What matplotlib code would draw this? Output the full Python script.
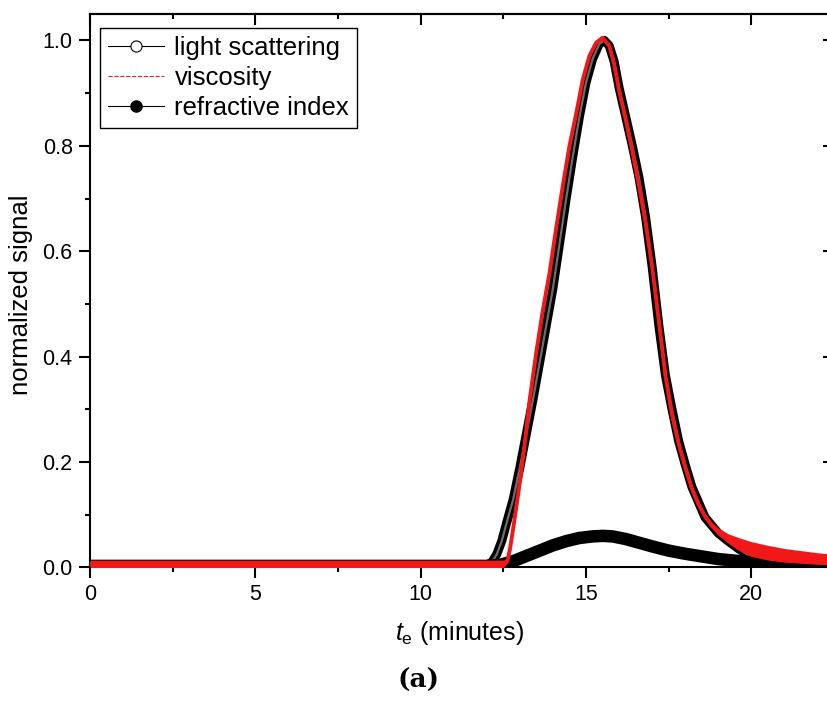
import matplotlib
matplotlib.use('Agg')
import matplotlib.pyplot as plt
from matplotlib.lines import Line2D
from matplotlib.ticker import MultipleLocator
import numpy as np

plt.rcParams['font.family'] = ['Liberation Sans', 'DejaVu Sans']
plt.rcParams['mathtext.fontset'] = 'custom'
plt.rcParams['mathtext.rm'] = 'Liberation Sans'
plt.rcParams['mathtext.it'] = 'Liberation Sans:italic'

# light scattering (open circles) - elution time in minutes, normalized signal
ls_t = [0, 2, 4, 6, 8, 10, 11, 12.0, 12.15, 12.3, 12.45, 12.6, 12.8, 13.0, 13.2,
        13.4, 13.6, 13.8, 14.0, 14.2, 14.4, 14.6, 14.8, 15.0, 15.2, 15.4, 15.55,
        15.7, 15.85, 16.0, 16.2, 16.4, 16.6, 16.8, 17.0, 17.2, 17.4, 17.6, 17.8,
        18.0, 18.2, 18.4, 18.6, 18.8, 19.0, 19.3, 19.6, 19.9, 20.2, 20.6, 21.0,
        21.5, 22.0, 22.5]
ls_y = [0.004, 0.004, 0.004, 0.004, 0.004, 0.004, 0.004, 0.005, 0.01, 0.025,
        0.05, 0.085, 0.13, 0.19, 0.255, 0.32, 0.39, 0.46, 0.53, 0.615, 0.70,
        0.78, 0.855, 0.92, 0.965, 0.993, 1.0, 0.99, 0.96, 0.91, 0.855, 0.80,
        0.74, 0.665, 0.57, 0.46, 0.365, 0.30, 0.24, 0.195, 0.153, 0.124, 0.095,
        0.08, 0.065, 0.05, 0.036, 0.024, 0.016, 0.01, 0.007, 0.005, 0.004, 0.004]

# viscosity (red, noisy)
visc_t = [0, 1, 2, 3, 4, 5, 6, 7, 8, 9, 10, 11, 12, 12.5, 12.62, 12.7, 12.8,
          12.95, 13.1, 13.3, 13.5, 13.7, 13.9, 14.1, 14.3, 14.5, 14.7, 14.9,
          15.1, 15.3, 15.5, 15.7, 15.85, 16.0, 16.2, 16.4, 16.6, 16.8, 17.0,
          17.2, 17.4, 17.6, 17.8, 18.0, 18.2, 18.4, 18.6, 18.8, 19.0, 19.3,
          19.6, 20.0, 20.5, 21.0, 21.5, 22.0, 22.5]
visc_y = [0.007, 0.007, 0.007, 0.007, 0.007, 0.007, 0.007, 0.007, 0.007, 0.007,
          0.007, 0.007, 0.007, 0.007, 0.012, 0.035, 0.075, 0.14, 0.21, 0.32,
          0.41, 0.49, 0.56, 0.645, 0.725, 0.80, 0.86, 0.925, 0.97, 0.995, 1.005,
          0.99, 0.955, 0.905, 0.85, 0.79, 0.725, 0.655, 0.57, 0.47, 0.365, 0.29,
          0.235, 0.19, 0.15, 0.12, 0.097, 0.08, 0.068, 0.055, 0.045, 0.035,
          0.028, 0.023, 0.02, 0.017, 0.015]
# half-width of the noise band of the viscosity trace
visc_noise = [0.007, 0.007, 0.007, 0.007, 0.007, 0.007, 0.007, 0.007, 0.007,
              0.007, 0.007, 0.007, 0.007, 0.007, 0.004, 0.003, 0.003, 0.003,
              0.003, 0.003, 0.003, 0.003, 0.003, 0.003, 0.003, 0.003, 0.003,
              0.003, 0.003, 0.003, 0.003, 0.003, 0.003, 0.003, 0.003, 0.003,
              0.003, 0.003, 0.003, 0.003, 0.003, 0.003, 0.003, 0.004, 0.004,
              0.005, 0.005, 0.006, 0.007, 0.009, 0.012, 0.014, 0.014, 0.013,
              0.012, 0.011, 0.01]

# refractive index (filled circles)
ri_t = [0, 2, 4, 6, 8, 10, 11, 12, 12.4, 12.8, 13.2, 13.6, 14.0, 14.4, 14.8,
        15.2, 15.5, 15.8, 16.2, 16.6, 17.0, 17.5, 18.0, 18.5, 19.0, 19.5, 20.0,
        20.5, 21.0, 21.5, 22.0, 22.5]
ri_y = [0.003, 0.003, 0.003, 0.003, 0.003, 0.003, 0.003, 0.003, 0.005, 0.012,
        0.022, 0.032, 0.042, 0.05, 0.056, 0.059, 0.06, 0.059, 0.054, 0.047,
        0.04, 0.032, 0.026, 0.021, 0.016, 0.013, 0.01, 0.008, 0.006, 0.005,
        0.004, 0.004]

red = '#f01818'

fig = plt.figure(figsize=(8.28, 7.04), dpi=100)
ax = fig.add_axes([0.1087, 0.1939, 0.8986, 0.7862])

# light scattering: dense open circles drawn as a thick band
ax.plot(ls_t, ls_y, color='black', lw=6.5, solid_joinstyle='round',
        solid_capstyle='round', zorder=2)
ax.plot(ls_t, ls_y, color='#6e6e6e', lw=1.6, zorder=2.1)
# refractive index: dense filled circles
ax.plot(ri_t, ri_y, color='black', lw=9, solid_capstyle='round',
        solid_joinstyle='round', zorder=3)
# viscosity
vt = np.array(visc_t)
vy = np.array(visc_y)
vn = np.array(visc_noise)
ax.fill_between(vt, vy - vn, vy + vn, color=red, lw=0, zorder=4)
ax.plot(vt, vy, color=red, lw=2.8, zorder=4.1)

ax.set_xlim(0, 22.5)
ax.set_ylim(0, 1.05)
ax.xaxis.set_major_locator(MultipleLocator(5))
ax.xaxis.set_minor_locator(MultipleLocator(2.5))
ax.yaxis.set_major_locator(MultipleLocator(0.2))
ax.yaxis.set_minor_locator(MultipleLocator(0.1))
ax.yaxis.set_major_formatter(plt.FuncFormatter(lambda v, p: f'{v:.1f}'))

for s in ax.spines.values():
    s.set_linewidth(1.5)
ax.tick_params(which='major', direction='out', length=8, width=1.5,
               labelsize=15.5, pad=4)
ax.tick_params(which='minor', direction='out', length=3.8, width=1.5)
ax.tick_params(axis='y', pad=4.5)

top = ax.secondary_xaxis('top')
top.xaxis.set_major_locator(MultipleLocator(5))
top.xaxis.set_minor_locator(MultipleLocator(2.5))
top.tick_params(which='major', direction='in', length=8, width=1.5, labeltop=False)
top.tick_params(which='minor', direction='in', length=3.8, width=1.5)
top.spines['top'].set_linewidth(1.5)

right = ax.secondary_yaxis('right')
right.yaxis.set_major_locator(MultipleLocator(0.2))
right.yaxis.set_minor_locator(MultipleLocator(0.1))
right.tick_params(which='major', direction='in', length=8, width=1.5, labelright=False)
right.tick_params(which='minor', direction='in', length=3.8, width=1.5)
right.spines['right'].set_linewidth(1.5)

ax.set_xlabel(r'$t_\mathrm{e}$ (minutes)', fontsize=18)
ax.xaxis.set_label_coords(0.497, -0.093)
ax.set_ylabel('normalized signal', fontsize=18.5)
ax.yaxis.set_label_coords(-0.077, 0.493)

handles = [
    Line2D([], [], color='black', lw=0.8, marker='o', ms=8,
           mfc='white', mec='black', mew=0.8),
    Line2D([], [], color=red, lw=0.8, ls='--'),
    Line2D([], [], color='black', lw=0.8, marker='o', ms=8,
           mfc='black', mec='black'),
]
labels = ['light scattering', 'viscosity', 'refractive index']
leg = ax.legend(handles, labels, loc='upper left', bbox_to_anchor=(0.0134, 0.975),
                borderaxespad=0, fontsize=18.5, handlelength=2.2, handletextpad=0.4,
                labelspacing=0.25, borderpad=0.3, fancybox=False, framealpha=1)
leg.get_frame().set_edgecolor('black')
leg.get_frame().set_linewidth(1.0)

fig.text(0.505, 0.034, '(a)', ha='center', va='center', fontsize=19,
         fontweight='bold', family=['DejaVu Serif'])

fig.savefig('out.png', dpi=100)
